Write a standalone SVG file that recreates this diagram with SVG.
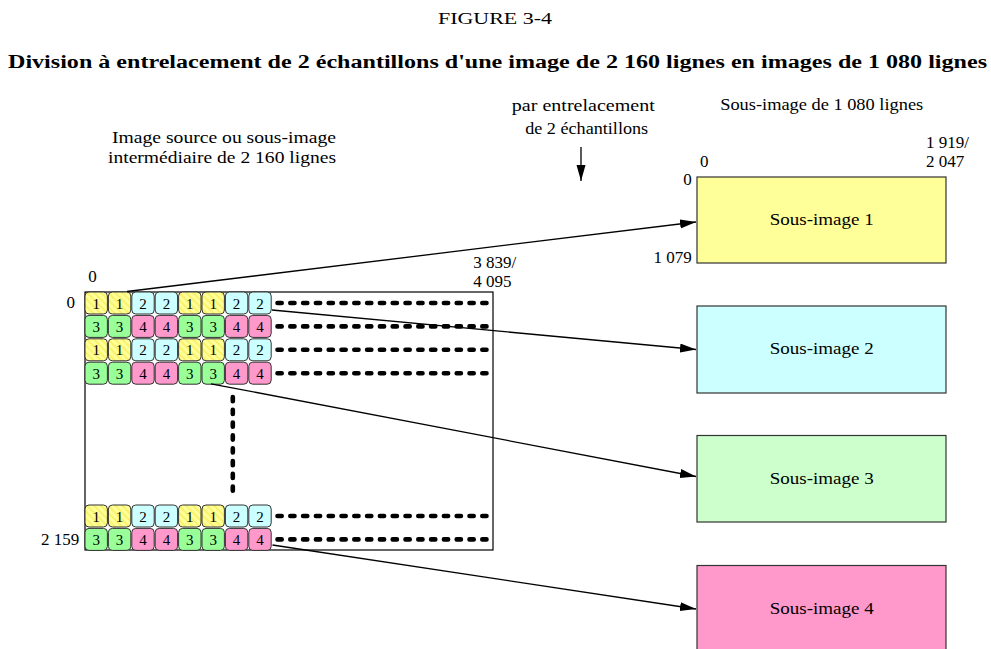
<svg xmlns="http://www.w3.org/2000/svg" xmlns:xlink="http://www.w3.org/1999/xlink" width="991" height="649" viewBox="0 0 991 649" font-family="'Liberation Serif', 'Times New Roman', Times, serif">
<style>
text{font-family:'Liberation Serif','Times New Roman',Times,serif;fill:#000}
.t17{font-size:17px}
.cell{stroke:#333;stroke-width:1}
.cn{font-size:15px;text-anchor:middle}
.y{fill:url(#hatch)}
.c{fill:#ccffff}
.g{fill:#99ff99}
.p{fill:#ff99cc}
.box{stroke:#333;stroke-width:1.2}
.dash{stroke:#000;stroke-width:4.6;stroke-linecap:round;stroke-dasharray:4.2 8.6;fill:none}
.arr{stroke:#000;stroke-width:1.3;fill:none;marker-end:url(#ah)}
</style>
<defs>
<pattern id="hatch" patternUnits="userSpaceOnUse" width="5" height="5" patternTransform="rotate(-45)">
<rect width="5" height="5" fill="#ffff99"/>
<line x1="1" y1="0" x2="1" y2="5" stroke="#f5e640" stroke-width="1"/>
</pattern>
<marker id="ah" markerUnits="userSpaceOnUse" markerWidth="17" markerHeight="10" refX="16" refY="4.5" orient="auto">
<path d="M0,0 L16,4.5 L0,9 z" fill="#000"/>
</marker>
<g id="rowA">
<rect class="cell y" x="85" y="0" width="22.4" height="22" rx="4"/>
<rect class="cell y" x="108.4" y="0" width="22.4" height="22" rx="4"/>
<rect class="cell c" x="131.8" y="0" width="22.4" height="22" rx="4"/>
<rect class="cell c" x="155.2" y="0" width="22.4" height="22" rx="4"/>
<rect class="cell y" x="178.6" y="0" width="22.4" height="22" rx="4"/>
<rect class="cell y" x="202" y="0" width="22.4" height="22" rx="4"/>
<rect class="cell c" x="225.4" y="0" width="22.4" height="22" rx="4"/>
<rect class="cell c" x="248.8" y="0" width="22.4" height="22" rx="4"/>
<text class="cn" x="96.2" y="16.5">1</text>
<text class="cn" x="119.6" y="16.5">1</text>
<text class="cn" x="143" y="16.5">2</text>
<text class="cn" x="166.4" y="16.5">2</text>
<text class="cn" x="189.8" y="16.5">1</text>
<text class="cn" x="213.2" y="16.5">1</text>
<text class="cn" x="236.6" y="16.5">2</text>
<text class="cn" x="260" y="16.5">2</text>
</g>
<g id="rowB">
<rect class="cell g" x="85" y="0" width="22.4" height="22" rx="4"/>
<rect class="cell g" x="108.4" y="0" width="22.4" height="22" rx="4"/>
<rect class="cell p" x="131.8" y="0" width="22.4" height="22" rx="4"/>
<rect class="cell p" x="155.2" y="0" width="22.4" height="22" rx="4"/>
<rect class="cell g" x="178.6" y="0" width="22.4" height="22" rx="4"/>
<rect class="cell g" x="202" y="0" width="22.4" height="22" rx="4"/>
<rect class="cell p" x="225.4" y="0" width="22.4" height="22" rx="4"/>
<rect class="cell p" x="248.8" y="0" width="22.4" height="22" rx="4"/>
<text class="cn" x="96.2" y="16.5">3</text>
<text class="cn" x="119.6" y="16.5">3</text>
<text class="cn" x="143" y="16.5">4</text>
<text class="cn" x="166.4" y="16.5">4</text>
<text class="cn" x="189.8" y="16.5">3</text>
<text class="cn" x="213.2" y="16.5">3</text>
<text class="cn" x="236.6" y="16.5">4</text>
<text class="cn" x="260" y="16.5">4</text>
</g>
</defs>
<rect width="991" height="649" fill="#fff"/>

<g id="title">
<text class="t17" x="495" y="24" text-anchor="middle" textLength="114" lengthAdjust="spacingAndGlyphs">FIGURE 3-4</text>
<text x="497.5" y="68" text-anchor="middle" font-size="18" font-weight="bold" textLength="979" lengthAdjust="spacingAndGlyphs">Division à entrelacement de 2 échantillons d'une image de 2 160 lignes en images de 1 080 lignes</text>
</g>

<g id="labels">
<text class="t17" x="224" y="142.5" text-anchor="middle" textLength="224" lengthAdjust="spacingAndGlyphs">Image source ou sous-image</text>
<text class="t17" x="222" y="163" text-anchor="middle" textLength="228" lengthAdjust="spacingAndGlyphs">intermédiaire de 2 160 lignes</text>
<text class="t17" x="583.3" y="111" text-anchor="middle" textLength="143" lengthAdjust="spacingAndGlyphs">par entrelacement</text>
<text class="t17" x="586.7" y="133.5" text-anchor="middle" textLength="123" lengthAdjust="spacingAndGlyphs">de 2 échantillons</text>
<text class="t17" x="821.7" y="110" text-anchor="middle" textLength="203" lengthAdjust="spacingAndGlyphs">Sous-image de 1 080 lignes</text>
<text class="t17" x="926" y="148">1 919/</text>
<text class="t17" x="926" y="167">2 047</text>
<text class="t17" x="700" y="166.5">0</text>
<text class="t17" x="691.7" y="185" text-anchor="end">0</text>
<text class="t17" x="691.7" y="263" text-anchor="end">1 079</text>
<text class="t17" x="88.3" y="281.5">0</text>
<text class="t17" x="473.3" y="268">3 839/</text>
<text class="t17" x="473.3" y="287">4 095</text>
<text class="t17" x="75" y="308" text-anchor="end">0</text>
<text class="t17" x="79.3" y="545" text-anchor="end">2 159</text>
</g>

<g id="source-image">
<rect x="85" y="292" width="408" height="258" fill="#fff" stroke="#000" stroke-width="1.2"/>
<use xlink:href="#rowA" y="292"/>
<use xlink:href="#rowB" y="315.4"/>
<use xlink:href="#rowA" y="338.8"/>
<use xlink:href="#rowB" y="362.2"/>
<use xlink:href="#rowA" y="505"/>
<use xlink:href="#rowB" y="528.4"/>
<path class="dash" d="M277.5,303 H491 M277.5,326.4 H491 M277.5,349.8 H491 M277.5,373.2 H491 M277.5,516 H491 M277.5,539.4 H491"/>
<path class="dash" d="M232.8,397 V494"/>
</g>

<g id="sous-image-1">
<rect class="box" x="697" y="177" width="249" height="86" fill="#ffff99"/>
<text class="t17" x="821.7" y="225" text-anchor="middle" textLength="104" lengthAdjust="spacingAndGlyphs">Sous-image 1</text>
</g>
<g id="sous-image-2">
<rect class="box" x="697" y="306" width="249" height="87" fill="#ccffff"/>
<text class="t17" x="821.7" y="354.3" text-anchor="middle" textLength="104" lengthAdjust="spacingAndGlyphs">Sous-image 2</text>
</g>
<g id="sous-image-3">
<rect class="box" x="697" y="435.5" width="249" height="86.5" fill="#ccffcc"/>
<text class="t17" x="821.7" y="483.8" text-anchor="middle" textLength="104" lengthAdjust="spacingAndGlyphs">Sous-image 3</text>
</g>
<g id="sous-image-4">
<rect class="box" x="697" y="565.5" width="249" height="90" fill="#ff99cc"/>
<text class="t17" x="821.7" y="614.3" text-anchor="middle" textLength="104" lengthAdjust="spacingAndGlyphs">Sous-image 4</text>
</g>

<g id="connectors">
<path class="arr" d="M581,147 V181"/>
<path class="arr" d="M127,291.5 L696,222"/>
<path class="arr" d="M272,310 L696,349.5"/>
<path class="arr" d="M211,383.8 L696,476.5"/>
<path class="arr" d="M272.5,545 L696,609"/>
</g>
</svg>
